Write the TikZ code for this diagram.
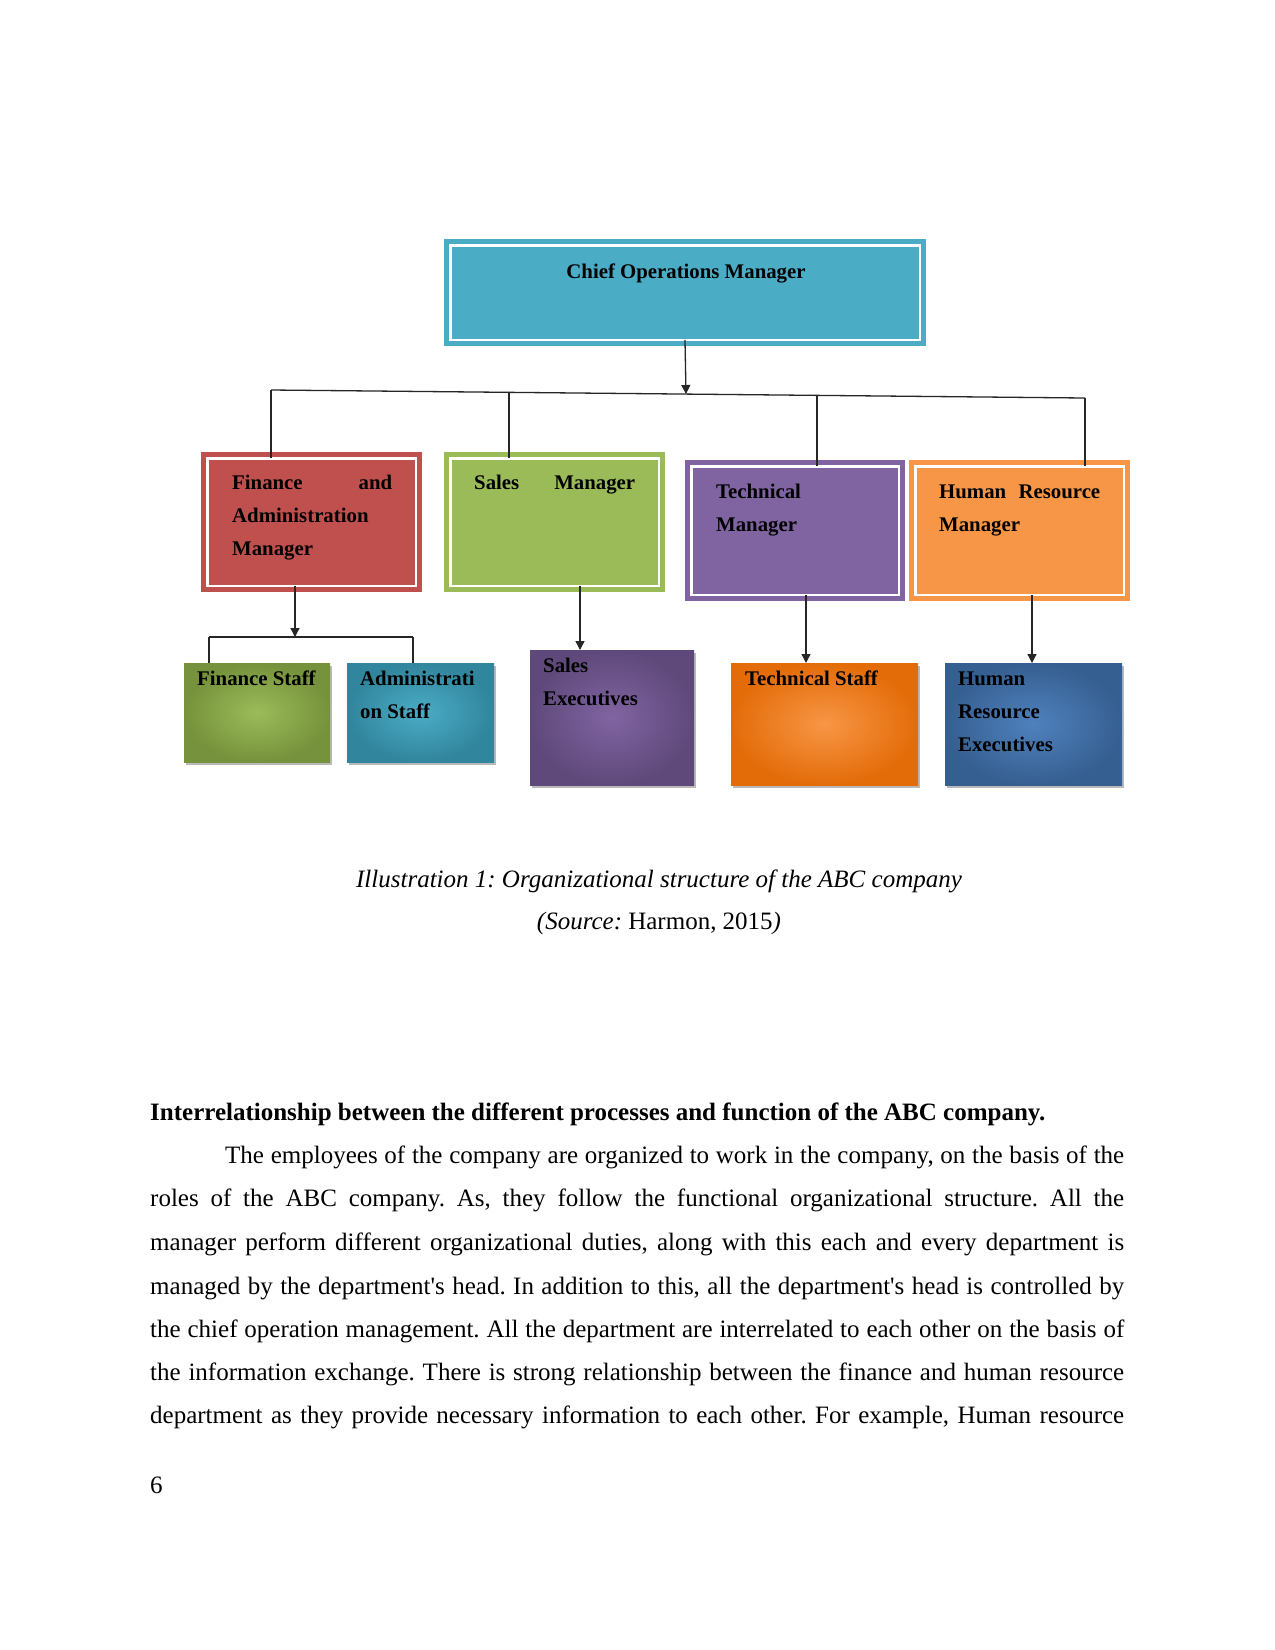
\documentclass[tikz,border=0pt]{standalone}
\usepackage{fontspec}
\setmainfont{Liberation Serif}
\usetikzlibrary{positioning,calc,arrows.meta,shadows}
\definecolor{chiefblue}{HTML}{4BACC6}
\definecolor{finred}{HTML}{C0504D}
\definecolor{salesgreen}{HTML}{9BBB59}
\definecolor{techpurple}{HTML}{8064A2}
\definecolor{hrorange}{HTML}{F79646}
\definecolor{olivedark}{HTML}{76923C}
\definecolor{tealdark}{HTML}{31859C}
\definecolor{purpledark}{HTML}{5F497A}
\definecolor{orangedark}{HTML}{E36C09}
\definecolor{bluelight}{HTML}{4F81BD}
\definecolor{bluedark}{HTML}{365F91}
\tikzset{
  mgrbox/.style={draw=#1, fill=#1, double=white, double distance=2.5pt, line width=5pt, anchor=north west, inner sep=0pt, outer sep=0pt},
  staffbox/.style 2 args={inner color=#1, outer color=#2, anchor=north west, inner sep=0pt, outer sep=0pt,
    drop shadow={shadow xshift=1.5pt, shadow yshift=-2.5pt, opacity=0.55}},
  boxtext/.style={anchor=base west, inner sep=0pt, align=left, font=\fontsize{20.8}{33}\selectfont\bfseries},
  bodyline/.style={anchor=base west, inner sep=0pt, font=\fontsize{25}{30}\selectfont},
  link/.style={line width=1.3pt, draw=black!85},
  arr/.style={link, -{Triangle[width=9pt,length=9pt]}}
}
\frenchspacing

\begin{document}
\begin{tikzpicture}[x=1pt,y=-1pt]
    \fill[white] (0,0) rectangle (1275,1650);
    \useasboundingbox (0,0) rectangle (1275,1650);
    % managers
    \node[mgrbox=chiefblue, minimum width=469.5pt, minimum height=94.5pt] (chief) at (450.25,245.25) {};
    \node[mgrbox=finred, minimum width=208.5pt, minimum height=127.5pt] (fin) at (207.25,458.25) {};
    \node[mgrbox=salesgreen, minimum width=208.5pt, minimum height=127.5pt] (sales) at (450.25,458.25) {};
    \node[mgrbox=techpurple, minimum width=207.5pt, minimum height=128.5pt] (tech) at (691.25,466.25) {};
    \node[mgrbox=hrorange, minimum width=208.5pt, minimum height=128.5pt] (hr) at (915.25,466.25) {};
    % (multi-line labels sit on their last baseline)
    \node[boxtext, anchor=base] (chieft) at (686,278) {Chief Operations Manager};
    \node[boxtext] (fint) at (232,555) {\makebox[160pt][s]{Finance and}\\Administration\\Manager};
    \node[boxtext] (salest) at (474,489) {\makebox[161pt][s]{Sales Manager}};
    \node[boxtext] (techt) at (716,531) {Technical\\Manager};
    \node[boxtext] (hrt) at (939,531) {\makebox[161pt][s]{Human Resource}\\Manager};
    % staff
    \node[staffbox={salesgreen}{olivedark}, minimum width=146pt, minimum height=99pt] (finst) at (184,663) {};
    \node[staffbox={chiefblue}{tealdark}, minimum width=147pt, minimum height=99pt] (admst) at (347,663) {};
    \node[staffbox={techpurple}{purpledark}, minimum width=164pt, minimum height=135pt] (sexe) at (530,650) {};
    \node[staffbox={hrorange}{orangedark}, minimum width=187pt, minimum height=122pt] (tstaff) at (731,663) {};
    \node[staffbox={bluelight}{bluedark}, minimum width=177pt, minimum height=122pt] (hrexe) at (945,663) {};
    \node[boxtext] (finstt) at (197,685) {Finance Staff};
    \node[boxtext] (admstt) at (360,718) {Administrati\\on Staff};
    \node[boxtext] (sexet) at (543,705) {Sales\\Executives};
    \node[boxtext] (tstafft) at (745,685) {Technical Staff};
    \node[boxtext] (hrexet) at (958,751) {Human\\Resource\\Executives};
    % connectors
    \coordinate (busW) at (271,390);
    \coordinate (busS) at (509,392);
    \coordinate (busM) at (686,394);
    \coordinate (busT) at (817,396);
    \coordinate (busE) at (1085,398);
    \draw[link] (busW) -- (busE);
    \draw[arr] (chief.south) -- (busM);
    \draw[link] (busW) -- (busW |- fin.north);
    \draw[link] (busS) -- (busS |- sales.north);
    \draw[link] (busT) -- (busT |- tech.north);
    \draw[link] (busE) -- (busE |- hr.north);
    \coordinate (finJ) at (295,637);
    \coordinate (finW) at (209,637);
    \coordinate (finE) at (413,637);
    \draw[arr] (finJ |- fin.south) -- (finJ);
    \draw[link] (finW) -- (finE);
    \draw[link] (finW) -- (finW |- finst.north);
    \draw[link] (finE) -- (finE |- admst.north);
    \coordinate (salJ) at (580,0);
    \coordinate (techJ) at (806,0);
    \coordinate (hrJ) at (1032,0);
    \draw[arr] (salJ |- sales.south) -- (salJ |- sexe.north);
    \draw[arr] (techJ |- tech.south) -- (techJ |- tstaff.north);
    \draw[arr] (hrJ |- hr.south) -- (hrJ |- hrexe.north);
    % caption and text
    \node[bodyline, anchor=base, font=\fontsize{25}{30}\selectfont\itshape] (cap) at (659,887) {Illustration 1: Organizational structure of the ABC company};
    \node[bodyline, anchor=base, font=\fontsize{25}{30}\selectfont\itshape] (src) at (659,929) {(Source: {\upshape Harmon, 2015})};
    \node[bodyline, font=\fontsize{25}{30}\selectfont\bfseries] (head) at (150,1120) {Interrelationship between the different processes and function of the ABC company.};
    \node[bodyline] (line1) at (225,1163) {\makebox[899pt][s]{The employees of the company are organized to work in the company, on the basis of the}};
    \foreach \i/\y/\txt in {
      2/1206/{roles of the ABC company. As, they follow the functional organizational structure. All the},
      3/1250/{manager perform different organizational duties, along with this each and every department is},
      4/1294/{managed by the department\textquotesingle s head. In addition to this, all the department\textquotesingle s head is controlled by},
      5/1337/{the chief operation management. All the department are interrelated to each other on the basis of},
      6/1380/{the information exchange. There is strong relationship between the finance and human resource},
      7/1423/{department as they provide necessary information to each other. For example, Human resource}}
      \node[bodyline] (line\i) at (150,\y) {\makebox[974pt][s]{\txt}};
    \node[bodyline] (pgno) at (150,1493) {6};
\end{tikzpicture}
\end{document}
